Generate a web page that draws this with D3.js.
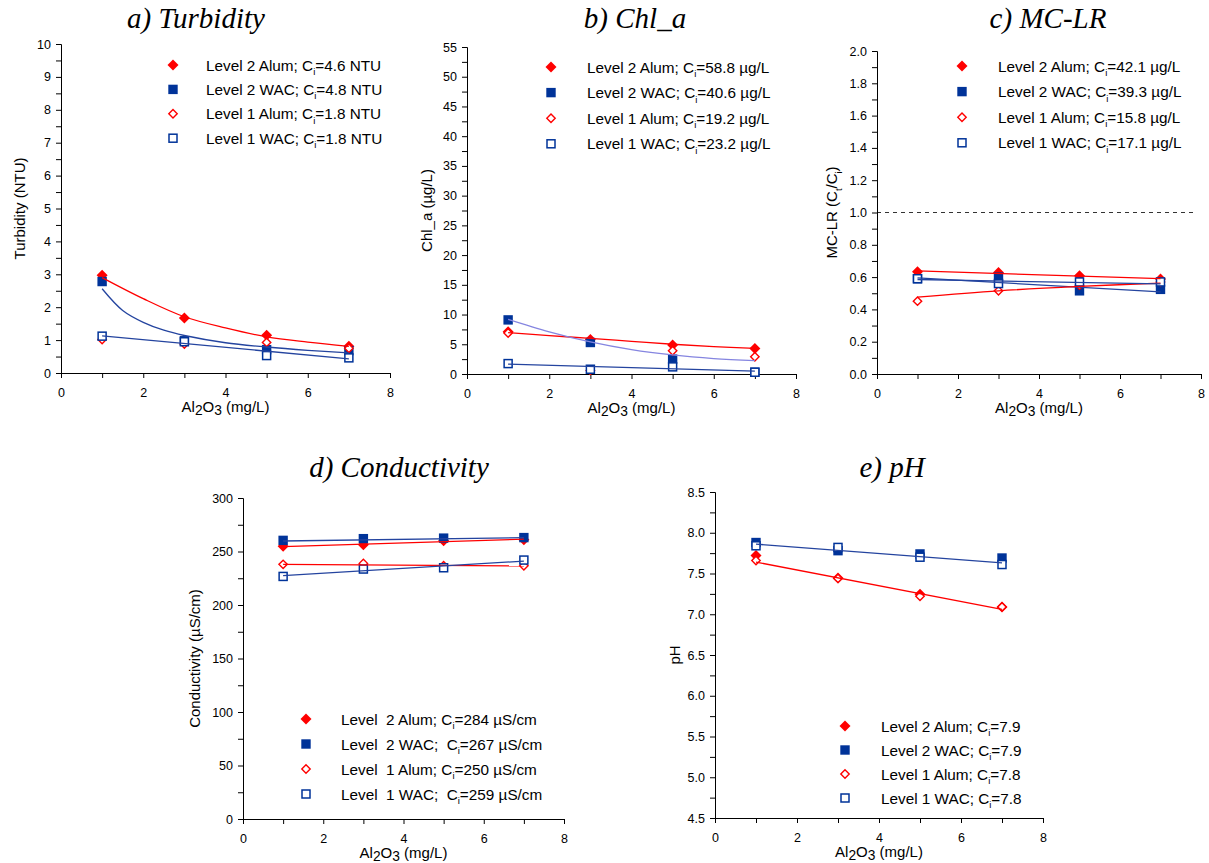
<!DOCTYPE html>
<html>
<head>
<meta charset="utf-8">
<script src="https://cdn.jsdelivr.net/npm/d3@7"></script>
<style>
  body { margin: 0; background: #fff; }
  svg { display: block; }
  text { font-family: "Liberation Sans", Arial, Helvetica, sans-serif; fill: #000; }
</style>
</head>
<body>
<div id="chart"></div>
<script>
// alum doses used in every panel
const doses = [1, 3, 5, 7];
const fitDoses = [1, 2, 3, 4, 5, 6, 7];
const powerDoses = [1, 1.5, 2, 2.5, 3, 4, 5, 6, 7];
const lineDoses = [1, 7];

// a) turbidity (NTU)
const turbL2Alum = [2.97, 1.67, 1.15, 0.81];
const turbL2Wac = [2.78, 0.98, 0.71, 0.68];
const turbL1Alum = [1.02, 0.88, 0.93, 0.75];
const turbL1Wac = [1.12, 0.95, 0.53, 0.46];
const turbFitL2Alum = [2.9, 2.26, 1.71, 1.37, 1.1, 0.94, 0.81];
const turbFitL2Wac = [2.56, 1.9, 1.54, 1.3, 1.14, 0.92, 0.79, 0.69, 0.61];
const turbFitL1Wac = [1.13, 0.43];

// b) chlorophyll a (ug/L)
const chlL2Alum = [7.1, 5.8, 4.86, 4.3];
const chlL2Wac = [9.1, 5.3, 2.5, 0.3];
const chlL1Alum = [6.9, 0.6, 3.9, 2.9];
const chlL1Wac = [1.75, 0.8, 1.2, 0.3];
const chlFitL2Alum = [6.95, 6.45, 6.0, 5.5, 5.0, 4.6, 4.3];
const chlFitL2Wac = [9.2, 7.1, 5.4, 4.1, 3.2, 2.6, 2.25];
const chlFitL1Wac = [1.65, 0.5];

// c) MC-LR (Ct/Ci)
const mcL2Alum = [0.633, 0.629, 0.608, 0.589];
const mcL2Wac = [0.59, 0.6, 0.515, 0.524];
const mcL1Alum = [0.451, 0.515, 0.55, 0.57];
const mcL1Wac = [0.59, 0.56, 0.57, 0.57];
const mcFitL2Alum = [0.638, 0.59];
const mcFitL2Wac = [0.595, 0.508];
const mcFitL1Alum = [0.476, 0.515, 0.542, 0.563];
const mcFitL1Wac = [0.585, 0.558];

// d) conductivity (uS/cm)
const condL2Alum = [254.8, 256.3, 260, 261];
const condL2Wac = [260.4, 262, 262.5, 263];
const condL1Alum = [238, 238.9, 236.7, 236.7];
const condL1Wac = [226.7, 233.6, 234.8, 242];
const condFitL2Alum = [254.5, 261.5];
const condFitL2Wac = [259.8, 263];
const condFitL1Alum = [238, 236.5];
const condFitL1Wac = [227.5, 241];

// e) pH
const phL2Alum = [7.72, 7.445, 7.244, 7.09];
const phL2Wac = [7.88, 7.78, 7.74, 7.69];
const phL1Alum = [7.66, 7.44, 7.22, 7.09];
const phL1Wac = [7.84, 7.82, 7.70, 7.61];
const phFitAlum = [7.64, 7.06];
const phFitWac = [7.86, 7.63];

// legend labels (text before subscript, text after)
const turbLegend = [["Level 2 Alum; C", "=4.6 NTU"], ["Level 2 WAC; C", "=4.8 NTU"], ["Level 1 Alum; C", "=1.8 NTU"], ["Level 1 WAC; C", "=1.8 NTU"]];
const chlLegend = [["Level 2 Alum; C", "=58.8 µg/L"], ["Level 2 WAC; C", "=40.6 µg/L"], ["Level 1 Alum; C", "=19.2 µg/L"], ["Level 1 WAC; C", "=23.2 µg/L"]];
const mcLegend = [["Level 2 Alum; C", "=42.1 µg/L"], ["Level 2 WAC; C", "=39.3 µg/L"], ["Level 1 Alum; C", "=15.8 µg/L"], ["Level 1 WAC; C", "=17.1 µg/L"]];
const condLegend = [["Level  2 Alum; C", "=284 µS/cm"], ["Level  2 WAC;  C", "=267 µS/cm"], ["Level  1 Alum; C", "=250 µS/cm"], ["Level  1 WAC;  C", "=259 µS/cm"]];
const phLegend = [["Level 2 Alum; C", "=7.9"], ["Level 2 WAC; C", "=7.9"], ["Level 1 Alum; C", "=7.8"], ["Level 1 WAC; C", "=7.8"]];

const markerKinds = ["fd", "fs", "od", "os"];
const RED = "#ff0000";
const BLUE = "#003399";
const LINEBLUE = "#24449f";
const PURPLE = "#8585e0";

const width = 1209;
const height = 863;

const svg = d3.select("#chart")
  .append("svg")
  .attr("width", width)
  .attr("height", height);

// text with subscript parts: [string, kind] where kind is "", "sub" or "low"
function rich(sel, parts, size) {
  let shift = 0;
  parts.forEach(([str, kind]) => {
    const ts = sel.append("tspan").text(str);
    let want = 0;
    if (kind === "sub") { want = size * 0.3; ts.attr("font-size", size * 0.62); }
    if (kind === "low") { want = size * 0.22; ts.attr("font-size", size * 0.92); }
    if (want !== shift) { ts.attr("dy", want - shift); shift = want; }
  });
}

function drawMarker(g, kind, cx, cy) {
  if (kind === "fd") {
    g.append("path").attr("d", `M${cx},${cy - 5.5}L${cx + 5.5},${cy}L${cx},${cy + 5.5}L${cx - 5.5},${cy}Z`)
      .attr("fill", RED);
  } else if (kind === "fs") {
    g.append("rect").attr("x", cx - 4.7).attr("y", cy - 4.7).attr("width", 9.4).attr("height", 9.4)
      .attr("fill", BLUE);
  } else if (kind === "od") {
    g.append("path").attr("d", `M${cx},${cy - 4.2}L${cx + 4.2},${cy}L${cx},${cy + 4.2}L${cx - 4.2},${cy}Z`)
      .attr("fill", "#fff").attr("stroke", RED).attr("stroke-width", 1.4);
  } else {
    g.append("rect").attr("x", cx - 4).attr("y", cy - 4).attr("width", 8).attr("height", 8)
      .attr("fill", "#fff").attr("stroke", BLUE).attr("stroke-width", 1.5);
  }
}

function drawPanel(p) {
  const g = svg.append("g");
  const x = d3.scaleLinear().domain([0, 8]).range([p.x0, p.x1]);
  const y = d3.scaleLinear().domain(p.yDomain).range([p.yBot, p.yTop]);

  // title
  g.append("text")
    .attr("x", p.titleX).attr("y", p.titleY)
    .attr("text-anchor", "middle")
    .style("font-family", "'Liberation Serif', 'Times New Roman', serif")
    .style("font-style", "italic")
    .style("font-size", "29px")
    .text(p.title);

  // dashed reference line
  if (p.refLine) {
    g.append("line")
      .attr("x1", x(0)).attr("x2", x(p.refLine[1]))
      .attr("y1", y(p.refLine[0])).attr("y2", y(p.refLine[0]))
      .attr("stroke", "#333").attr("stroke-width", 1.1)
      .attr("stroke-dasharray", "4,4");
  }

  // axes
  const yAx = g.append("g").attr("transform", `translate(${p.x0},0)`)
    .call(d3.axisLeft(y).tickValues(p.yMajor).tickFormat(p.yFmt).tickSize(5).tickSizeOuter(0).tickPadding(5));
  g.append("g").attr("transform", `translate(${p.x0},0)`)
    .call(d3.axisLeft(y).tickValues(p.yMinor).tickFormat("").tickSize(5).tickSizeOuter(0));
  const xAx = g.append("g").attr("transform", `translate(0,${p.yBot})`)
    .call(d3.axisBottom(x).tickValues([0, 2, 4, 6, 8]).tickSize(5).tickSizeOuter(0).tickPadding(10));
  g.append("g").attr("transform", `translate(0,${p.yBot})`)
    .call(d3.axisBottom(x).tickValues([1, 3, 5, 7]).tickFormat("").tickSize(5).tickSizeOuter(0));
  g.selectAll(".domain, .tick line").attr("stroke", "#000");
  [yAx, xAx].forEach(a => a.selectAll("text").style("font-size", "12.5px")
    .style("font-family", "'Liberation Sans', Arial, sans-serif").attr("fill", "#000"));

  // axis titles
  const xt = g.append("text")
    .attr("x", (p.x0 + p.x1) / 2).attr("y", p.yBot + 39)
    .attr("text-anchor", "middle")
    .style("font-size", "15px");
  rich(xt, [["Al", ""], ["2", "low"], ["O", ""], ["3", "low"], [" (mg/L)", ""]], 15);

  const yt = g.append("text")
    .attr("transform", `translate(${p.x0 - p.yTitleOff},${(p.yTop + p.yBot) / 2}) rotate(-90)`)
    .attr("text-anchor", "middle")
    .attr("dy", "0.35em")
    .style("font-size", "15px");
  rich(yt, p.yTitle, 15);

  // data points
  const pts = g.append("g");
  p.series.forEach((vals, i) => {
    vals.forEach((v, j) => drawMarker(pts, markerKinds[i], x(doses[j]), y(v)));
  });

  // trend lines
  p.fits.forEach(f => {
    const line = d3.line()
      .x((d, i) => x(f.xs[i]))
      .y(d => y(d))
      .curve(f.xs.length > 2 ? d3.curveCatmullRom : d3.curveLinear);
    g.append("path")
      .attr("d", line(f.ys))
      .attr("fill", "none")
      .attr("stroke", f.color)
      .attr("stroke-width", 1.3);
  });

  // legend
  const lg = g.append("g");
  p.legend.forEach((entry, i) => {
    const ly = p.legY + i * p.legStep;
    drawMarker(lg, markerKinds[i], p.legMarkX, ly);
    const t = lg.append("text")
      .attr("x", p.legTextX).attr("y", ly)
      .attr("dy", "0.36em")
      .attr("xml:space", "preserve")
      .style("white-space", "pre")
      .style("font-size", "15.3px");
    rich(t, [[entry[0], ""], ["i", "sub"], [entry[1], ""]], 15.3);
  });
}

const panels = [
  {
    title: "a) Turbidity", titleX: 196, titleY: 28,
    x0: 61, x1: 390, yTop: 44, yBot: 373,
    yDomain: [0, 10], yMajor: d3.range(0, 10.01, 1), yMinor: d3.range(0.5, 10, 1), yFmt: d3.format("d"),
    yTitle: [["Turbidity (NTU)", ""]], yTitleOff: 41,
    series: [turbL2Alum, turbL2Wac, turbL1Alum, turbL1Wac],
    fits: [
      { xs: fitDoses, ys: turbFitL2Alum, color: RED },
      { xs: powerDoses, ys: turbFitL2Wac, color: LINEBLUE },
      { xs: lineDoses, ys: turbFitL1Wac, color: LINEBLUE }
    ],
    legend: turbLegend, legMarkX: 173, legTextX: 206, legY: 65, legStep: 24.4
  },
  {
    title: "b) Chl_a", titleX: 635, titleY: 28,
    x0: 467, x1: 796, yTop: 47, yBot: 374,
    yDomain: [0, 55], yMajor: d3.range(0, 55.01, 5), yMinor: d3.range(2.5, 55, 5), yFmt: d3.format("d"),
    yTitle: [["Chl_a (µg/L)", ""]], yTitleOff: 40,
    series: [chlL2Alum, chlL2Wac, chlL1Alum, chlL1Wac],
    fits: [
      { xs: fitDoses, ys: chlFitL2Alum, color: RED },
      { xs: fitDoses, ys: chlFitL2Wac, color: PURPLE },
      { xs: lineDoses, ys: chlFitL1Wac, color: LINEBLUE }
    ],
    legend: chlLegend, legMarkX: 551, legTextX: 587, legY: 67, legStep: 25.6
  },
  {
    title: "c) MC-LR", titleX: 1048, titleY: 28,
    x0: 877, x1: 1201, yTop: 51, yBot: 374,
    yDomain: [0, 2], yMajor: d3.range(0, 2.001, 0.2), yMinor: d3.range(0.1, 2, 0.2), yFmt: d3.format(".1f"),
    yTitle: [["MC-LR (C", ""], ["t", "sub"], ["/C", ""], ["i", "sub"], [")", ""]], yTitleOff: 45,
    refLine: [1.0, 7.85],
    series: [mcL2Alum, mcL2Wac, mcL1Alum, mcL1Wac],
    fits: [
      { xs: lineDoses, ys: mcFitL2Alum, color: RED },
      { xs: lineDoses, ys: mcFitL2Wac, color: LINEBLUE },
      { xs: doses, ys: mcFitL1Alum, color: RED },
      { xs: lineDoses, ys: mcFitL1Wac, color: LINEBLUE }
    ],
    legend: mcLegend, legMarkX: 962, legTextX: 998, legY: 66, legStep: 25.6
  },
  {
    title: "d) Conductivity", titleX: 399, titleY: 477,
    x0: 243, x1: 564, yTop: 498, yBot: 819,
    yDomain: [0, 300], yMajor: d3.range(0, 301, 50), yMinor: d3.range(25, 300, 50), yFmt: d3.format("d"),
    yTitle: [["Conductivity (µS/cm)", ""]], yTitleOff: 48,
    series: [condL2Alum, condL2Wac, condL1Alum, condL1Wac],
    fits: [
      { xs: lineDoses, ys: condFitL2Alum, color: RED },
      { xs: lineDoses, ys: condFitL2Wac, color: LINEBLUE },
      { xs: lineDoses, ys: condFitL1Alum, color: RED },
      { xs: lineDoses, ys: condFitL1Wac, color: LINEBLUE }
    ],
    legend: condLegend, legMarkX: 306, legTextX: 341, legY: 719, legStep: 25
  },
  {
    title: "e) pH", titleX: 892, titleY: 477,
    x0: 715, x1: 1043, yTop: 492, yBot: 818,
    yDomain: [4.5, 8.5], yMajor: d3.range(4.5, 8.51, 0.5), yMinor: d3.range(4.75, 8.5, 0.5), yFmt: d3.format(".1f"),
    yTitle: [["pH", ""]], yTitleOff: 40,
    series: [phL2Alum, phL2Wac, phL1Alum, phL1Wac],
    fits: [
      { xs: lineDoses, ys: phFitAlum, color: RED },
      { xs: lineDoses, ys: phFitWac, color: LINEBLUE }
    ],
    legend: phLegend, legMarkX: 845, legTextX: 881, legY: 726, legStep: 24
  }
];

panels.forEach(drawPanel);
</script>
</body>
</html>
